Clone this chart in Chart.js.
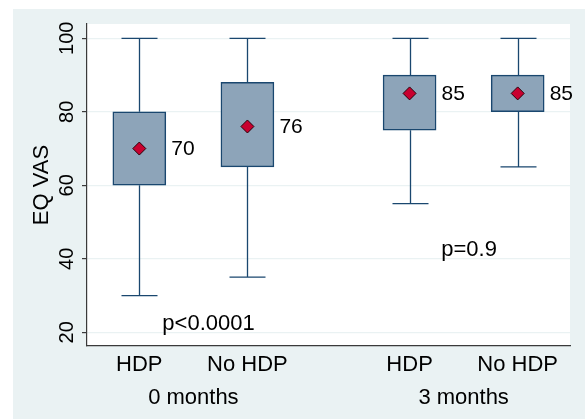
<!DOCTYPE html>
<html>
<head>
<meta charset="utf-8">
<script src="https://cdn.jsdelivr.net/npm/chart.js@4.4.0/dist/chart.umd.min.js"></script>
<style>
  html, body { margin:0; padding:0; background:#ffffff; }
  #wrap { width:585px; height:419px; position:relative; }
</style>
</head>
<body>
<div id="wrap"><canvas id="c" width="585" height="419"></canvas></div>
<script>
// ---- data ----
const categories   = ['HDP', 'No HDP', 'HDP', 'No HDP'];
const groupLabels  = ['0 months', '3 months'];
const groupOfBox   = [0, 0, 1, 1];
const whiskerLow   = [30, 35, 55, 65];
const quartile1    = [60, 65, 75, 80];
const quartile3    = [80, 88, 90, 90];
const whiskerHigh  = [100, 100, 100, 100];
const meanValues   = [70, 76, 85, 85];
const meanLabels   = ['70', '76', '85', '85'];
const yTickValues  = [20, 40, 60, 80, 100];
const pTexts       = ['p<0.0001', 'p=0.9'];
const pAnchors     = [{x: 1.64, y: 22.2}, {x: 4.05, y: 42.3}]; // in data units
const yTitle       = 'EQ VAS';

// ---- layout helpers ----
const GROUP_GAP = 2.5;
const xOf = i => 1 + (i % 2) + groupOfBox[i] * GROUP_GAP;
const positions = categories.map((_, i) => xOf(i));

const BG = '#EAF2F3';
const NAVY = '#1A476F';
const BOXFILL = '#8DA4B9';
const AXIS = '#3a3a3a';
const FONT = '"Liberation Sans", Arial, sans-serif';

const decor = {
  id: 'decor',
  beforeDraw(chart) {
    const {ctx, chartArea: a} = chart;
    ctx.save();
    ctx.fillStyle = BG;
    ctx.fillRect(13, 9, chart.width - 13, chart.height - 9);
    ctx.fillStyle = '#ffffff';
    ctx.fillRect(a.left, a.top, a.right - a.left, a.bottom - a.top);
    ctx.restore();
  },
  beforeDatasetsDraw(chart) {
    const {ctx} = chart;
    const xs = chart.scales.x, ys = chart.scales.y;
    ctx.save();
    ctx.strokeStyle = NAVY;
    ctx.lineWidth = 1.3;
    positions.forEach((p, i) => {
      const px = Math.round(xs.getPixelForValue(p)) + 0.5;
      const yLo = ys.getPixelForValue(whiskerLow[i]);
      const yHi = ys.getPixelForValue(whiskerHigh[i]);
      const yQ1 = ys.getPixelForValue(quartile1[i]);
      const yQ3 = ys.getPixelForValue(quartile3[i]);
      ctx.beginPath();
      ctx.moveTo(px, yHi); ctx.lineTo(px, yQ3);
      ctx.moveTo(px, yQ1); ctx.lineTo(px, yLo);
      ctx.moveTo(px - 18, yHi); ctx.lineTo(px + 18, yHi);
      ctx.moveTo(px - 18, yLo); ctx.lineTo(px + 18, yLo);
      ctx.stroke();
    });
    ctx.restore();
  },
  afterDraw(chart) {
    const {ctx, chartArea: a} = chart;
    const xs = chart.scales.x, ys = chart.scales.y;
    ctx.save();
    ctx.fillStyle = '#000000';
    // mean value labels
    ctx.font = '21px ' + FONT;
    ctx.textAlign = 'left';
    ctx.textBaseline = 'middle';
    positions.forEach((p, i) => {
      ctx.fillText(meanLabels[i], xs.getPixelForValue(p) + 32, ys.getPixelForValue(meanValues[i]) + 1);
    });
    // p-value texts
    ctx.font = '22px ' + FONT;
    ctx.textAlign = 'center';
    pTexts.forEach((t, i) => {
      ctx.fillText(t, xs.getPixelForValue(pAnchors[i].x), ys.getPixelForValue(pAnchors[i].y));
    });
    // group labels
    ctx.textBaseline = 'alphabetic';
    groupLabels.forEach((g, gi) => {
      const idx = groupOfBox.map((v, k) => v === gi ? k : -1).filter(k => k >= 0);
      const mid = (positions[idx[0]] + positions[idx[idx.length - 1]]) / 2;
      ctx.fillText(g, xs.getPixelForValue(mid), 404);
    });
    // y tick labels (rotated)
    ctx.font = '20px ' + FONT;
    yTickValues.forEach(v => {
      ctx.save();
      ctx.translate(72.5, ys.getPixelForValue(v));
      ctx.rotate(-Math.PI / 2);
      ctx.textAlign = 'center';
      ctx.textBaseline = 'alphabetic';
      ctx.fillText(String(v), 0, 0);
      ctx.restore();
    });
    // y title
    ctx.font = '22px ' + FONT;
    ctx.save();
    ctx.translate(48, (a.top + a.bottom) / 2);
    ctx.rotate(-Math.PI / 2);
    ctx.textAlign = 'center';
    ctx.textBaseline = 'alphabetic';
    ctx.fillText(yTitle, 0, 0);
    ctx.restore();
    ctx.restore();
  }
};

new Chart(document.getElementById('c'), {
  type: 'bar',
  data: {
    datasets: [
      {
        type: 'bar',
        data: positions.map((p, i) => ({x: p, y: [quartile1[i], quartile3[i]]})),
        backgroundColor: BOXFILL,
        borderColor: NAVY,
        borderWidth: 1.5,
        borderSkipped: false,
        barThickness: 53,
        order: 2
      },
      {
        type: 'scatter',
        data: positions.map((p, i) => ({x: p, y: meanValues[i]})),
        pointStyle: 'rectRot',
        pointRadius: 6.5,
        pointHoverRadius: 6.5,
        backgroundColor: '#C8002F',
        borderColor: '#2a0008',
        borderWidth: 1,
        order: 1
      }
    ]
  },
  options: {
    responsive: false,
    animation: false,
    devicePixelRatio: 1,
    layout: { padding: { top: 24, right: 15, left: 0, bottom: 0 } },
    plugins: { legend: { display: false }, tooltip: { enabled: false } },
    scales: {
      x: {
        type: 'linear',
        min: 0.516,
        max: 4.984,
        offset: false,
        afterFit: s => { s.height = 73; },
        afterBuildTicks: s => { s.ticks = positions.map(v => ({value: v})); },
        grid: { display: true, color: 'rgba(0,0,0,0)', drawTicks: false },
        border: { display: true, color: AXIS, width: 1.2 },
        ticks: {
          autoSkip: false,
          maxRotation: 0,
          minRotation: 0,
          padding: 6,
          color: '#000000',
          font: { family: FONT, size: 22 },
          callback: (v, i) => categories[i]
        }
      },
      y: {
        type: 'linear',
        min: 16.27,
        max: 103.89,
        afterFit: s => { s.width = 87; },
        afterBuildTicks: s => { s.ticks = yTickValues.map(v => ({value: v})); },
        grid: { color: BG, lineWidth: 1.2, tickColor: AXIS, tickLength: 5, drawTicks: true },
        border: { display: true, color: AXIS, width: 1.2 },
        ticks: { display: false }
      }
    }
  },
  plugins: [decor]
});
</script>
</body>
</html>
